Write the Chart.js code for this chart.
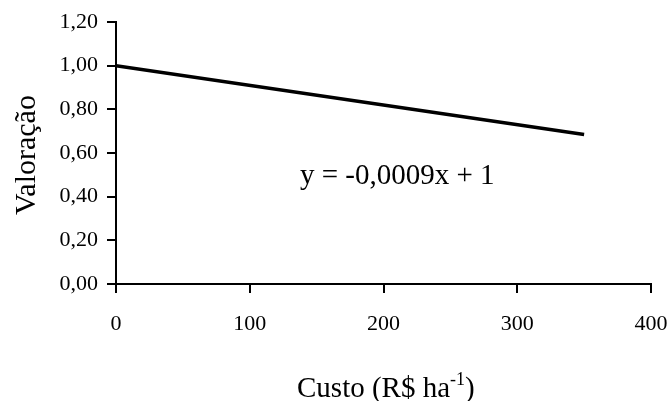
<!DOCTYPE html>
<html>
<head>
<meta charset="utf-8">
<script src="https://cdn.jsdelivr.net/npm/chart.js@4/dist/chart.umd.min.js"></script>
<style>
  html, body { margin: 0; padding: 0; background: #fff; }
  #c { display: block; }
</style>
</head>
<body>
<canvas id="c" width="670" height="401"></canvas>
<script>
// Fitted line: cost (R$/ha) vs. valuation
const costs = [0, 350];
const valuation = [1.00, 0.685];
const xTicks = [0, 100, 200, 300, 400];
const yTicks = [0.00, 0.20, 0.40, 0.60, 0.80, 1.00, 1.20];
const equationText = 'y = -0,0009x + 1';
const yTitle = 'Valoração';

const SERIF = '"Liberation Serif", "Times New Roman", serif';

const points = costs.map((c, i) => ({ x: c, y: valuation[i] }));

const textPlugin = {
  id: 'chartTexts',
  afterDraw(chart) {
    const ctx = chart.ctx;
    ctx.save();
    ctx.fillStyle = '#000';
    ctx.textBaseline = 'alphabetic';
    ctx.textAlign = 'left';

    // regression equation
    ctx.font = '29px ' + SERIF;
    ctx.fillText(equationText, 300, 184);

    // x axis title with superscript
    let x = 297;
    const base = 397;
    ctx.font = '29px ' + SERIF;
    const part1 = 'Custo (R$ ha';
    ctx.fillText(part1, x, base);
    x += ctx.measureText(part1).width;
    ctx.font = '18px ' + SERIF;
    ctx.fillText('-1', x, base - 12);
    x += ctx.measureText('-1').width;
    ctx.font = '29px ' + SERIF;
    ctx.fillText(')', x, base);

    // y axis title
    ctx.translate(35, 215);
    ctx.rotate(-Math.PI / 2);
    ctx.font = '30px ' + SERIF;
    ctx.fillText(yTitle, 0, 0);
    ctx.restore();
  }
};

new Chart(document.getElementById('c'), {
  type: 'line',
  data: {
    datasets: [{
      data: points,
      borderColor: '#000',
      borderWidth: 3.5,
      pointRadius: 0,
      tension: 0,
      fill: false
    }]
  },
  options: {
    responsive: false,
    animation: false,
    devicePixelRatio: 1,
    layout: { padding: { left: 0, right: 19, top: 22, bottom: 0 } },
    plugins: { legend: { display: false }, tooltip: { enabled: false } },
    scales: {
      x: {
        type: 'linear',
        min: xTicks[0],
        max: xTicks[xTicks.length - 1],
        afterBuildTicks(scale) { scale.ticks = xTicks.map(v => ({ value: v })); },
        afterFit(scale) {
          scale.height = 117;
          scale.paddingLeft = 0;
          scale.paddingRight = 0;
        },
        grid: { drawOnChartArea: false, drawTicks: true, tickLength: 9, color: '#000', lineWidth: 2 },
        border: { display: true, color: '#000', width: 2 },
        ticks: {
          color: '#000',
          padding: 18,
          maxRotation: 0,
          font: { family: SERIF, size: 22 },
          callback: v => String(v)
        }
      },
      y: {
        type: 'linear',
        min: yTicks[0],
        max: yTicks[yTicks.length - 1],
        afterBuildTicks(scale) { scale.ticks = yTicks.map(v => ({ value: v })); },
        afterFit(scale) {
          scale.width = 116;
          scale.paddingTop = 0;
          scale.paddingBottom = 0;
        },
        grid: { drawOnChartArea: false, drawTicks: true, tickLength: 9, color: '#000', lineWidth: 2 },
        border: { display: true, color: '#000', width: 2 },
        ticks: {
          color: '#000',
          padding: 9,
          font: { family: SERIF, size: 22 },
          callback: v => Number(v).toFixed(2).replace('.', ',')
        }
      }
    }
  },
  plugins: [textPlugin]
});
</script>
</body>
</html>
